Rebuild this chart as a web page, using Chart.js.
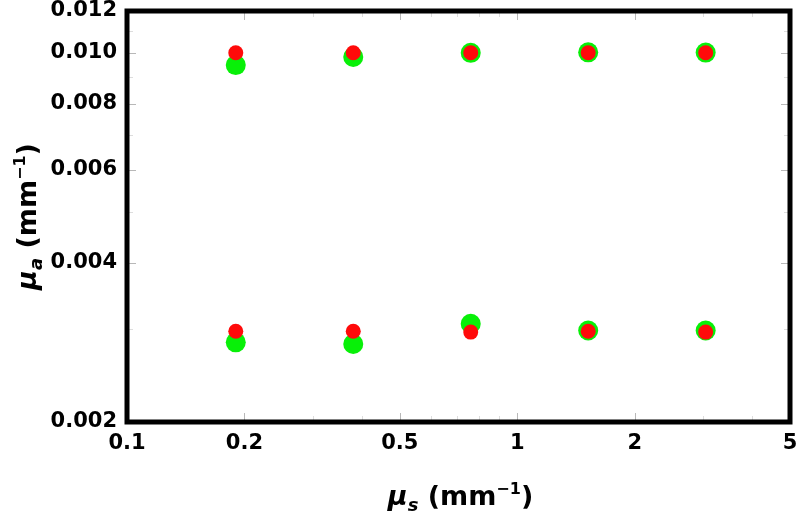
<!DOCTYPE html>
<html>
<head>
<meta charset="utf-8">
<script src="https://cdn.jsdelivr.net/npm/chart.js@4"></script>
<style>
  html, body { margin: 0; padding: 0; background: #fff; }
  #wrap { width: 800px; height: 514px; }
</style>
</head>
<body>
<div id="wrap"><canvas id="chart" width="800" height="514"></canvas></div>
<script>
// -------------------------
// Data
// -------------------------
const muS = [0.19, 0.38, 0.76, 1.52, 3.04];

const greenHigh = [0.00948, 0.00982, 0.0100, 0.01002, 0.01001];
const redHigh   = [0.0100, 0.0100, 0.0100, 0.0100, 0.0100];
const greenLow  = [0.00283, 0.00281, 0.00307, 0.00298, 0.00298];
const redLow    = [0.00297, 0.00297, 0.00296, 0.00297, 0.00296];

const xTicks = [0.1, 0.2, 0.5, 1, 2, 5];
const yTicks = [0.002, 0.004, 0.006, 0.008, 0.010, 0.012];
const xMinor = [0.3, 0.4, 0.6, 0.7, 0.8, 0.9, 3, 4];
const yMinor = [0.003, 0.005, 0.007, 0.009, 0.011];

const GREEN = '#08f008';
const RED = '#ff0a0a';
const FONT = '"DejaVu Sans", Arial, Helvetica, sans-serif';

function toPoints(xs, ys) {
    return xs.map((x, i) => ({ x: x, y: ys[i] }));
}

// -------------------------
// Frame + inward ticks
// -------------------------
const framePlugin = {
    id: 'frame',
    afterDraw(chart) {
        const { ctx, chartArea: a, scales } = chart;
        const xs = scales.x, ys = scales.y;
        ctx.save();
        const tick = (list, len, color) => {
            ctx.strokeStyle = color;
            ctx.lineWidth = 1;
            ctx.beginPath();
            list.x.forEach(v => {
                const px = Math.round(xs.getPixelForValue(v)) + 0.5;
                ctx.moveTo(px, a.bottom); ctx.lineTo(px, a.bottom - len);
                ctx.moveTo(px, a.top); ctx.lineTo(px, a.top + len);
            });
            list.y.forEach(v => {
                const py = Math.round(ys.getPixelForValue(v)) + 0.5;
                ctx.moveTo(a.left, py); ctx.lineTo(a.left + len, py);
                ctx.moveTo(a.right, py); ctx.lineTo(a.right - len, py);
            });
            ctx.stroke();
        };
        tick({ x: xMinor, y: yMinor }, 6, '#dddddd');
        tick({ x: xTicks, y: yTicks }, 9, '#b8b8b8');

        ctx.strokeStyle = '#000';
        ctx.lineWidth = 5;
        ctx.strokeRect(a.left, a.top, a.right - a.left, a.bottom - a.top);
        ctx.restore();
    }
};

// -------------------------
// Axis titles with sub/superscripts
// -------------------------
function richText(ctx, parts, cx, baseY) {
    let total = 0;
    parts.forEach(p => { ctx.font = p.font; p.w = ctx.measureText(p.t).width; total += p.w; });
    let x = cx - total / 2;
    parts.forEach(p => {
        ctx.font = p.font;
        ctx.fillText(p.t, x, baseY + (p.dy || 0));
        x += p.w;
    });
}

function titleParts(sub) {
    return [
        { t: 'μ', font: 'italic bold 27px ' + FONT },
        { t: sub, font: 'italic bold 18px ' + FONT, dy: 6 },
        { t: ' (mm', font: 'bold 27px ' + FONT },
        { t: '−1', font: 'bold 16px ' + FONT, dy: -11 },
        { t: ')', font: 'bold 27px ' + FONT }
    ];
}

const titlePlugin = {
    id: 'titles',
    afterDraw(chart) {
        const { ctx, chartArea: a } = chart;
        ctx.save();
        ctx.fillStyle = '#000';
        ctx.textBaseline = 'alphabetic';
        richText(ctx, titleParts('s'), (a.left + a.right) / 2 + 2, 505);

        ctx.translate(36, (a.top + a.bottom) / 2);
        ctx.rotate(-Math.PI / 2);
        richText(ctx, titleParts('a'), 0, 0);
        ctx.restore();
    }
};

// -------------------------
// Chart
// -------------------------
const ctx = document.getElementById('chart').getContext('2d');

new Chart(ctx, {
    type: 'scatter',
    data: {
        datasets: [
            {
                label: 'red high',
                data: toPoints(muS, redHigh),
                backgroundColor: RED,
                borderWidth: 0,
                pointRadius: 7.5
            },
            {
                label: 'red low',
                data: toPoints(muS, redLow),
                backgroundColor: RED,
                borderWidth: 0,
                pointRadius: 7.5
            },
            {
                label: 'green high',
                data: toPoints(muS, greenHigh),
                backgroundColor: GREEN,
                borderWidth: 0,
                pointRadius: 10
            },
            {
                label: 'green low',
                data: toPoints(muS, greenLow),
                backgroundColor: GREEN,
                borderWidth: 0,
                pointRadius: 10
            }
        ]
    },
    options: {
        responsive: false,
        animation: false,
        layout: {
            padding: { top: 11, right: 9, left: 0, bottom: 0 }
        },
        plugins: {
            legend: { display: false },
            tooltip: { enabled: false }
        },
        scales: {
            x: {
                type: 'logarithmic',
                min: 0.1,
                max: 5,
                afterBuildTicks: s => { s.ticks = xTicks.map(v => ({ value: v })); },
                afterFit: s => { s.height = 92; s.paddingLeft = 0; s.paddingRight = 0; },
                grid: { display: false, drawTicks: false },
                border: { display: false },
                ticks: {
                    color: '#000',
                    padding: 9,
                    maxRotation: 0,
                    autoSkip: false,
                    font: { family: FONT, size: 21, weight: 'bold' },
                    callback: v => String(v)
                }
            },
            y: {
                type: 'logarithmic',
                min: 0.002,
                max: 0.012,
                afterBuildTicks: s => { s.ticks = yTicks.map(v => ({ value: v })); },
                afterFit: s => { s.width = 127; s.paddingTop = 0; s.paddingBottom = 0; },
                grid: { display: false, drawTicks: false },
                border: { display: false },
                ticks: {
                    color: '#000',
                    padding: 10,
                    autoSkip: false,
                    font: { family: FONT, size: 21, weight: 'bold' },
                    callback: v => Number(v).toFixed(3)
                }
            }
        }
    },
    plugins: [framePlugin, titlePlugin]
});
</script>
</body>
</html>
